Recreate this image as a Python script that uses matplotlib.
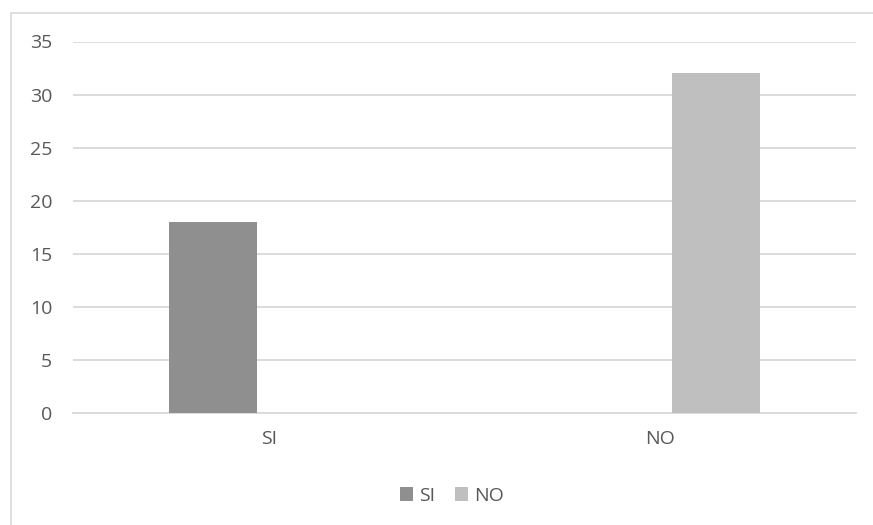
import matplotlib.pyplot as plt
from matplotlib.patches import Rectangle
import numpy as np

categories = ["SI", "NO"]
series_names = ["SI", "NO"]
si_values = [18, 0]
no_values = [0, 32]
y_ticks = [0, 5, 10, 15, 20, 25, 30, 35]

colors = ["#8f8f8f", "#bfbfbf"]
text_color = "#595959"
grid_color = "#d9d9d9"

plt.rcParams['font.family'] = ['Open Sans', 'DejaVu Sans']

fig = plt.figure(figsize=(8.73, 5.25), dpi=100)
ax = fig.add_axes([73 / 873, 1 - 413.3 / 525, (856 - 73) / 873, (413.3 - 41.5) / 525])

# chart frame
fig.patches.append(Rectangle((11 / 873, -0.1), 1.2, 1 - 13 / 525 + 0.1,
                             transform=fig.transFigure, fill=False,
                             edgecolor=grid_color, linewidth=1.2))

x = np.arange(len(categories))
width = 0.225
offset = 0.143
ax.bar(x - offset, si_values, width, color=colors[0], label=series_names[0], zorder=3)
ax.bar(x + offset, no_values, width, color=colors[1], label=series_names[1], zorder=3)

ax.set_xlim(-0.5, 1.5)
ax.set_ylim(0, 35)
ax.set_yticks(y_ticks)
ax.set_xticks(x)
ax.set_xticklabels(categories)
ax.yaxis.grid(True, color=grid_color, linewidth=1.3, zorder=0)
ax.set_axisbelow(True)
for side in ["top", "right", "left"]:
    ax.spines[side].set_visible(False)
ax.spines["bottom"].set_color(grid_color)
ax.spines["bottom"].set_linewidth(1.3)
ax.tick_params(axis="both", length=0, labelsize=14, labelcolor=text_color)
ax.tick_params(axis="y", pad=15)
ax.tick_params(axis="x", pad=12)

fig.legend(loc="center", bbox_to_anchor=(452 / 873, 1 - 496 / 525), ncol=2,
           frameon=False, fontsize=14, labelcolor=text_color,
           handlelength=0.7, handleheight=0.7, handletextpad=0.3,
           columnspacing=1.0)

fig.savefig("out.png", dpi=100)
